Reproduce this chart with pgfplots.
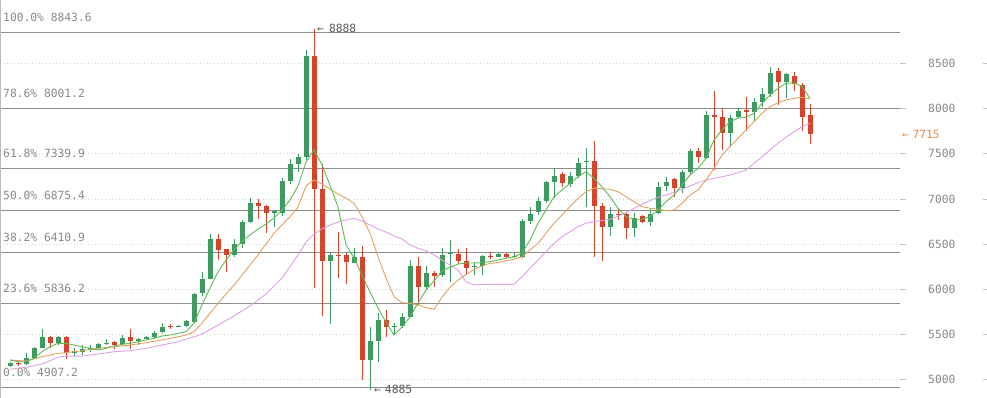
\documentclass[border=0pt]{standalone}
\usepackage{pgfplots}
\pgfplotsset{compat=1.18}
\usepackage{pgfplotstable}
\usepackage{fontspec}
\setmainfont{DejaVu Sans Mono}
\definecolor{cg}{HTML}{3E9A61}
\definecolor{cr}{HTML}{D5432B}
\definecolor{mag}{HTML}{5DBB55}
\definecolor{mao}{HTML}{E4A05E}
\definecolor{map}{HTML}{E19FE6}
\definecolor{fib}{HTML}{8C8C8C}
\definecolor{txt}{HTML}{888888}
\definecolor{org}{HTML}{EA8A44}

\pgfplotstableread{
i o h l c
0 5151 5195 5140 5184
2 5166 5288 5155 5240
3 5240 5362 5233 5350
4 5350 5558 5344 5472
6 5406 5476 5377 5470
8 5288 5344 5262 5310
9 5306 5384 5273 5333
10 5328 5384 5306 5350
11 5350 5403 5336 5388
12 5391 5443 5384 5406
14 5388 5488 5380 5455
16 5421 5458 5380 5443
17 5450 5480 5443 5466
18 5472 5536 5443 5510
19 5521 5621 5510 5580
21 5580 5599 5576 5591
22 5591 5658 5580 5643
23 5639 5954 5628 5946
24 5954 6187 5924 6112
25 6112 6611 6112 6556
28 6378 6556 6360 6500
29 6500 6767 6453 6748
30 6745 7014 6730 6959
33 6848 6878 6692 6870
34 6848 7229 6811 7196
35 7202 7440 7166 7388
36 7388 7495 7302 7469
37 7469 8652 7432 8585
40 6315 6397 5613 6375
43 6293 6453 6293 6360
45 5214 5583 4885 5425
46 5425 5732 5195 5658
48 5583 5621 5488 5595
49 5594 5732 5566 5694
50 5694 6323 5688 6257
52 6027 6257 5998 6176
54 6157 6460 6138 6375
55 6389 6545 6075 6404
58 6242 6304 6157 6257
59 6257 6378 6157 6367
61 6360 6397 6353 6389
63 6356 6397 6342 6367
64 6360 6774 6342 6759
65 6759 6914 6722 6833
66 6859 7025 6822 6981
67 6981 7203 6959 7185
68 7185 7332 7007 7258
70 7166 7302 7136 7255
71 7255 7451 7229 7402
72 7406 7562 6914 7421
75 6686 6914 6589 6833
78 6681 6841 6581 6785
80 6748 6896 6703 6833
81 6848 7185 6833 7136
82 7147 7247 7092 7185
84 7125 7321 7063 7296
85 7302 7554 7266 7535
87 7451 7979 7440 7931
90 7735 7931 7580 7894
91 7905 8005 7894 7979
93 7961 8116 7868 8072
94 8072 8227 8023 8164
95 8164 8460 8134 8394
97 8300 8394 8116 8382
}\greentab

\pgfplotstableread{
i o h l c
1 5184 5195 5147 5166
5 5472 5476 5350 5406
7 5469 5484 5229 5295
13 5417 5421 5333 5380
15 5469 5561 5333 5425
20 5591 5610 5558 5580
26 6556 6608 6323 6434
27 6442 6442 6187 6378
31 6955 7003 6778 6925
32 6922 6933 6619 6848
38 8585 8888 6016 7110
39 7107 7388 5702 6315
41 6378 6630 6127 6366
42 6378 6397 6057 6297
44 6353 6482 4992 5214
47 5658 5769 5466 5583
51 6257 6360 5824 6027
53 6182 6204 6027 6149
56 6389 6445 6275 6312
57 6312 6453 6168 6231
60 6367 6408 6334 6356
62 6389 6397 6342 6360
69 7277 7302 7129 7174
73 7421 7643 6360 6922
74 6922 6959 6315 6692
76 6833 6896 6767 6822
77 6833 6859 6556 6675
79 6811 6822 6730 6748
83 7218 7229 7025 7125
86 7535 7562 7395 7469
88 7931 8197 7321 7912
89 7912 8005 7543 7735
92 7986 8127 7757 7961
96 8419 8449 8042 8300
98 8364 8405 8201 8272
99 8264 8289 7757 7912
100 7931 8053 7609 7715
}\redtab

\begin{document}
\begin{tikzpicture}
\useasboundingbox (0,0) rectangle (987pt,398pt);
\begin{axis}[
  at={(0,0)}, anchor=south west,
  scale only axis, width=900pt, height=398pt,
  xmin=-1.25, xmax=111.25, ymin=4793, ymax=9205,
  clip=false,
  axis line style={draw=none},
  xtick=\empty,
  ytick={5000,5500,...,8500},
  ytick pos=right,
  tick align=outside,
  major tick length=6pt,
  tick style={draw=gray!45, line width=0.8pt},
  ymajorgrids,
  grid style={draw=gray!35, line width=0.7pt, dash pattern=on 1pt off 2.5pt},
  /pgf/number format/assume math mode=true,
  /pgf/number format/1000 sep={},
  yticklabel style={anchor=west, inner sep=0pt, xshift=22pt, text=txt, font=\fontsize{11.3}{13}\selectfont},
]
% Fibonacci levels
\addplot[fib, line width=1pt, forget plot] coordinates {(-1.25,8843.6) (111.25,8843.6)};
\addplot[fib, line width=1pt, forget plot] coordinates {(-1.25,8001.2) (111.25,8001.2)};
\addplot[fib, line width=1pt, forget plot] coordinates {(-1.25,7339.9) (111.25,7339.9)};
\addplot[fib, line width=1pt, forget plot] coordinates {(-1.25,6875.4) (111.25,6875.4)};
\addplot[fib, line width=1pt, forget plot] coordinates {(-1.25,6410.9) (111.25,6410.9)};
\addplot[fib, line width=1pt, forget plot] coordinates {(-1.25,5836.2) (111.25,5836.2)};
\addplot[fib, line width=1pt, forget plot] coordinates {(-1.25,4907.2) (111.25,4907.2)};

\node[anchor=base west, inner sep=0pt, xshift=3pt, yshift=11pt, text=txt, font=\fontsize{11.3}{13}\selectfont] at (axis cs:-1.25,8843.6) {100.0\% 8843.6};
\node[anchor=base west, inner sep=0pt, xshift=3pt, yshift=11pt, text=txt, font=\fontsize{11.3}{13}\selectfont] at (axis cs:-1.25,8001.2) {78.6\% 8001.2};
\node[anchor=base west, inner sep=0pt, xshift=3pt, yshift=11pt, text=txt, font=\fontsize{11.3}{13}\selectfont] at (axis cs:-1.25,7339.9) {61.8\% 7339.9};
\node[anchor=base west, inner sep=0pt, xshift=3pt, yshift=11pt, text=txt, font=\fontsize{11.3}{13}\selectfont] at (axis cs:-1.25,6875.4) {50.0\% 6875.4};
\node[anchor=base west, inner sep=0pt, xshift=3pt, yshift=11pt, text=txt, font=\fontsize{11.3}{13}\selectfont] at (axis cs:-1.25,6410.9) {38.2\% 6410.9};
\node[anchor=base west, inner sep=0pt, xshift=3pt, yshift=11pt, text=txt, font=\fontsize{11.3}{13}\selectfont] at (axis cs:-1.25,5836.2) {23.6\% 5836.2};
\node[anchor=base west, inner sep=0pt, xshift=3pt, yshift=11pt, text=txt, font=\fontsize{11.3}{13}\selectfont] at (axis cs:-1.25,4907.2) {0.0\% 4907.2};

% wicks
\addplot[draw=none, mark=none, forget plot, error bars/.cd, y dir=plus, y explicit, error mark=none,
  error bar style={draw=cg, line width=1pt}]
  table[x=i, y=l, y error plus expr=\thisrow{h}-\thisrow{l}] {\greentab};
\addplot[draw=none, mark=none, forget plot, error bars/.cd, y dir=plus, y explicit, error mark=none,
  error bar style={draw=cr, line width=1pt}]
  table[x=i, y=l, y error plus expr=\thisrow{h}-\thisrow{l}] {\redtab};
% bodies
\addplot[draw=none, mark=none, forget plot, error bars/.cd, y dir=plus, y explicit, error mark=none,
  error bar style={draw=cg, line width=5pt}]
  table[x=i, y=o, y error plus expr=\thisrow{c}-\thisrow{o}] {\greentab};
\addplot[draw=none, mark=none, forget plot, error bars/.cd, y dir=plus, y explicit, error mark=none,
  error bar style={draw=cr, line width=5pt}]
  table[x=i, y=c, y error plus expr=\thisrow{o}-\thisrow{c}] {\redtab};

% moving averages
\addplot[map, line width=0.9pt, mark=none] coordinates {
(0,5111)(2,5133)(4,5170)(6,5244)(7,5258)(9,5258)(11,5280)(13,5306)(15,5317)(17,5344)(19,5380)(21,5417)(23,5472)(24,5502)(26,5602)(28,5702)(30,5813)(32,5946)(34,6123)(36,6378)(37,6522)(38,6611)(39,6666)(40,6711)(41,6744)(42,6766)(43,6785)(44,6755)(45,6711)(46,6666)(47,6633)(48,6589)(49,6556)(50,6489)(51,6452)(52,6426)(53,6378)(54,6323)(55,6267)(56,6212)(57,6082)(58,6045)(59,6053)(63,6053)(64,6138)(65,6231)(66,6323)(67,6415)(68,6508)(69,6581)(70,6636)(71,6692)(72,6730)(73,6747)(74,6761)(75,6774)(76,6810)(77,6847)(78,6896)(79,6940)(80,6980)(81,7018)(82,7043)(83,7073)(84,7107)(85,7143)(86,7180)(87,7210)(88,7228)(89,7246)(90,7265)(91,7291)(92,7320)(93,7395)(94,7468)(95,7542)(96,7617)(97,7683)(98,7745)(99,7801)(100,7838)};
\addplot[mao, line width=0.9pt, mark=none] coordinates {
(0,5214)(2,5203)(4,5251)(6,5288)(7,5295)(9,5317)(11,5344)(13,5361)(15,5380)(17,5406)(19,5436)(21,5472)(22,5491)(23,5528)(24,5624)(25,5732)(26,5843)(27,5946)(28,6045)(29,6156)(30,6267)(31,6378)(32,6500)(33,6619)(34,6711)(35,6803)(36,6910)(37,7143)(38,7210)(39,7165)(40,7110)(41,7054)(42,7010)(43,6951)(44,6803)(45,6622)(46,6359)(47,6123)(48,5916)(49,5849)(50,5843)(51,5824)(52,5794)(53,5776)(54,5912)(55,6018)(56,6101)(57,6162)(58,6217)(59,6256)(60,6286)(61,6293)(62,6315)(63,6330)(64,6359)(65,6434)(66,6508)(67,6619)(68,6730)(69,6822)(70,6914)(71,7007)(72,7080)(73,7118)(74,7113)(75,7107)(76,7080)(77,7024)(78,6969)(79,6914)(80,6896)(81,6885)(82,6869)(83,6877)(84,6951)(85,7043)(86,7099)(87,7210)(88,7339)(89,7487)(90,7579)(91,7672)(92,7764)(93,7856)(94,7949)(95,8022)(96,8067)(97,8097)(98,8115)(99,8126)(100,8108)};
\addplot[mag, line width=0.9pt, mark=none] coordinates {
(0,5214)(1,5195)(2,5195)(3,5233)(4,5306)(5,5361)(6,5399)(7,5399)(8,5380)(9,5361)(10,5344)(11,5325)(12,5344)(13,5369)(14,5388)(15,5399)(16,5417)(17,5436)(18,5455)(19,5480)(20,5491)(21,5510)(22,5528)(23,5621)(24,5825)(25,6012)(26,6190)(27,6323)(28,6434)(29,6533)(30,6601)(31,6666)(32,6722)(33,6789)(34,6877)(35,6988)(36,7143)(37,7409)(38,7543)(39,7380)(40,7150)(41,6910)(42,6490)(43,6345)(44,6156)(45,5968)(46,5790)(47,5635)(48,5491)(49,5580)(50,5691)(51,5846)(52,5990)(53,6090)(54,6201)(55,6245)(56,6278)(57,6289)(58,6289)(59,6293)(60,6304)(61,6323)(62,6342)(63,6359)(64,6397)(65,6544)(66,6730)(67,6877)(68,7024)(69,7099)(70,7173)(71,7246)(72,7302)(73,7228)(74,7132)(75,7024)(76,6896)(77,6803)(78,6774)(79,6774)(80,6803)(81,6877)(82,6969)(83,7043)(84,7154)(85,7265)(86,7339)(87,7450)(88,7653)(89,7764)(90,7856)(91,7894)(92,7905)(93,7949)(94,8060)(95,8152)(96,8226)(97,8282)(98,8288)(99,8244)(100,8115)};

% annotations
\node[anchor=west, inner sep=0pt, xshift=3pt, text=black!65, font=\fontsize{11.3}{13}\selectfont] at (axis cs:38,8888) {←\hspace{5pt}8888};
\node[anchor=west, inner sep=0pt, xshift=4pt, text=black!65, font=\fontsize{11.3}{13}\selectfont] at (axis cs:45,4885) {←\hspace{4pt}4885};
\node[anchor=west, inner sep=0pt, xshift=2pt, text=org, font=\fontsize{11.3}{13}\selectfont] at (axis cs:111.25,7715) {←\hspace{3.5pt}7715};

% left border and far-right ticks
\draw[gray!55, line width=1pt] (axis cs:-1.19,4793) -- (axis cs:-1.19,9205);
\draw[gray!45, line width=0.8pt] (axis cs:121.6,5000) -- (axis cs:122.2,5000);
\draw[gray!45, line width=0.8pt] (axis cs:121.6,5500) -- (axis cs:122.2,5500);
\draw[gray!45, line width=0.8pt] (axis cs:121.6,6000) -- (axis cs:122.2,6000);
\draw[gray!45, line width=0.8pt] (axis cs:121.6,6500) -- (axis cs:122.2,6500);
\draw[gray!45, line width=0.8pt] (axis cs:121.6,7000) -- (axis cs:122.2,7000);
\draw[gray!45, line width=0.8pt] (axis cs:121.6,7500) -- (axis cs:122.2,7500);
\draw[gray!45, line width=0.8pt] (axis cs:121.6,8000) -- (axis cs:122.2,8000);
\draw[gray!45, line width=0.8pt] (axis cs:121.6,8500) -- (axis cs:122.2,8500);
\end{axis}
\end{tikzpicture}
\end{document}
